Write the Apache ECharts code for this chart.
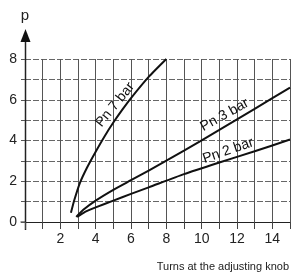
<!DOCTYPE html>
<html lang="en">
<head>
    <meta charset="utf-8">
    <script src="https://cdn.jsdelivr.net/npm/echarts@6/dist/echarts.min.js"></script>
    <style>
        html, body { margin: 0; width: 100%; height: 100%; background: #fff; overflow: hidden; }
        #main { width: 293px; height: 278px; }
    </style>
</head>
<body>
<div id="main"></div>
<script>
    // curves: [turns, p]
    var pn7 = [[2.6, 0.45], [2.8, 1.1], [3.1, 1.9], [3.5, 2.65], [4, 3.45], [4.5, 4.2], [5, 4.88], [5.5, 5.5], [6, 6.08], [7, 7.12], [8, 8.0]];
    var pn3 = [[2.9, 0.25], [3.3, 0.6], [4, 1.05], [5, 1.58], [6, 2.05], [7, 2.52], [9, 3.5], [11, 4.52], [13, 5.55], [15, 6.6]];
    var pn2 = [[2.95, 0.25], [3.4, 0.5], [4, 0.72], [5, 1.05], [6, 1.38], [7, 1.7], [9, 2.35], [11, 2.92], [13, 3.47], [15, 4.05]];
    // label centres [turns, p, text, rotation in degrees]
    var curveLabels = [[5.1, 5.75, 'Pn 7 bar', 51], [11.3, 5.25, 'Pn 3 bar', 29], [11.5, 3.5, 'Pn 2 bar', 19]];
    var xTickLabels = ['2', '4', '6', '8', '10', '12', '14'];
    var yTickLabels = ['0', '2', '4', '6', '8'];

    var font = 'Liberation Sans';
    var chart = echarts.init(document.getElementById('main'));

    function curve(data) {
        return {
            type: 'line', data: data, smooth: 0.2, showSymbol: false, silent: true,
            lineStyle: {color: '#111', width: 2}
        };
    }

    chart.setOption({
        animation: false,
        grid: {left: 25, right: 3, top: 59, bottom: 56},
        xAxis: {
            type: 'value', min: 0, max: 15, interval: 1,
            axisLine: {show: true, lineStyle: {color: '#222', width: 1}},
            axisTick: {show: true, length: 7, lineStyle: {color: '#444'}},
            axisLabel: {
                color: '#222', fontFamily: font, fontSize: 14, margin: 10,
                formatter: function (v) { return xTickLabels.indexOf(String(v)) >= 0 ? String(v) : ''; }
            },
            splitLine: {show: true, lineStyle: {color: '#555', width: 1}}
        },
        yAxis: {
            type: 'value', min: 0, max: 8, interval: 1,
            name: 'p', nameGap: 36,
            nameTextStyle: {color: '#222', fontFamily: font, fontSize: 15, align: 'center'},
            axisLine: {show: false},
            axisTick: {show: true, length: 4, lineStyle: {color: '#555'}},
            axisLabel: {
                color: '#222', fontFamily: font, fontSize: 14, margin: 8,
                formatter: function (v) { return yTickLabels.indexOf(String(v)) >= 0 ? String(v) : ''; }
            },
            splitLine: {show: true, lineStyle: {color: '#666', width: 1, type: [6, 2]}}
        },
        series: [curve(pn7), curve(pn3), curve(pn2)]
    });

    // vertical axis with arrow, reaching a little beyond the grid
    var o = chart.convertToPixel({gridIndex: 0}, [0, 0]);
    var t = chart.convertToPixel({gridIndex: 0}, [0, 8]);
    var ax = Math.round(o[0]) + 0.5;
    var graphics = [
        {type: 'line', shape: {x1: ax, y1: o[1] + 8, x2: ax, y2: t[1] - 18}, style: {stroke: '#222', lineWidth: 1.5}},
        {type: 'polygon', shape: {points: [[ax - 5, t[1] - 17], [ax + 5, t[1] - 17], [ax, t[1] - 30]]}, style: {fill: '#111'}},
        {type: 'line', shape: {x1: ax - 5, y1: o[1], x2: ax, y2: o[1]}, style: {stroke: '#222', lineWidth: 1}},
        {
            type: 'text', right: 4, bottom: 6,
            style: {text: 'Turns at the adjusting knob', fill: '#222', font: '11px ' + font}
        }
    ];
    curveLabels.forEach(function (d) {
        var p = chart.convertToPixel({gridIndex: 0}, [d[0], d[1]]);
        graphics.push({
            type: 'text', x: p[0], y: p[1], rotation: d[3] * Math.PI / 180,
            style: {text: d[2], fill: '#111', font: '14px ' + font, align: 'center', verticalAlign: 'middle'}
        });
    });
    chart.setOption({graphic: graphics});
</script>
</body>
</html>
